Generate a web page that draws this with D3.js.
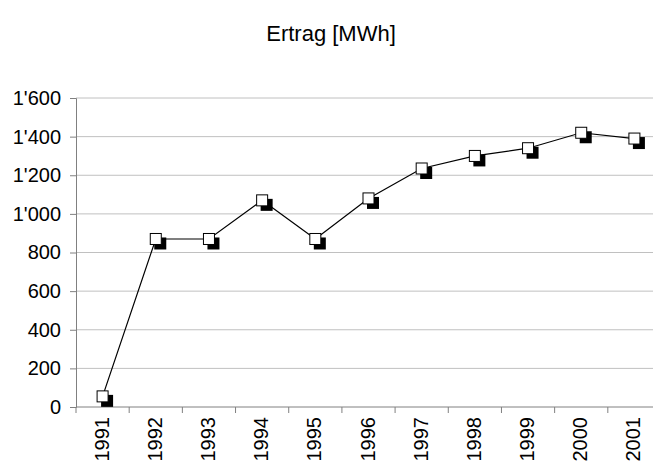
<!DOCTYPE html>
<html>
<head>
<meta charset="utf-8">
<script src="https://cdn.jsdelivr.net/npm/d3@7.9.0/dist/d3.min.js"></script>
<style>
  body { margin: 0; background: #fff; }
  svg { display: block; font-family: Arial, "Liberation Sans", sans-serif; }
</style>
</head>
<body>
<svg id="chart" width="653" height="470"></svg>
<script>
// Ertrag per year
const years = ['1991', '1992', '1993', '1994', '1995', '1996', '1997', '1998', '1999', '2000', '2001'];
const ertrag = [55, 870, 870, 1070, 870, 1080, 1235, 1300, 1340, 1420, 1390];
const yTicks = [0, 200, 400, 600, 800, 1000, 1200, 1400, 1600];

const svg = d3.select('#chart');
const plotLeft = 76, plotRight = 661, plotTop = 98, plotBottom = 407;

const x = d3.scaleBand().domain(years).range([plotLeft, plotRight]);
const y = d3.scaleLinear().domain([0, 1600]).range([plotBottom, plotTop]);

const fmt = (v) => d3.format(',')(v).replace(/,/g, "'");

// title
svg.append('text')
  .attr('x', 331)
  .attr('y', 41)
  .attr('text-anchor', 'middle')
  .attr('font-size', 22)
  .text('Ertrag [MWh]');

// gridlines
svg.append('g')
  .selectAll('line')
  .data(yTicks.filter((d) => d > 0))
  .join('line')
  .attr('x1', plotLeft)
  .attr('x2', plotRight)
  .attr('y1', (d) => y(d))
  .attr('y2', (d) => y(d))
  .attr('stroke', '#c0c0c0')
  .attr('stroke-width', 1);

// y axis
const yAxis = svg.append('g')
  .attr('transform', `translate(${plotLeft},0)`)
  .call(d3.axisLeft(y).tickValues(yTicks).tickFormat(fmt).tickSize(6).tickPadding(9));
yAxis.select('.domain').attr('stroke', '#808080');
yAxis.selectAll('.tick line').attr('stroke', '#808080');
yAxis.selectAll('text').attr('font-size', 20).attr('fill', '#000').attr('font-family', 'Arial, "Liberation Sans", sans-serif');

// x axis (ticks between categories)
const xAxis = svg.append('g').attr('transform', `translate(0,${plotBottom})`);
xAxis.append('line')
  .attr('x1', plotLeft).attr('x2', plotRight)
  .attr('stroke', '#808080');
xAxis.selectAll('line.tk')
  .data(years)
  .join('line')
  .attr('class', 'tk')
  .attr('x1', (d) => x(d)).attr('x2', (d) => x(d))
  .attr('y1', 0).attr('y2', 6)
  .attr('stroke', '#808080');
xAxis.selectAll('text')
  .data(years)
  .join('text')
  .attr('transform', (d) => `translate(${x(d) + x.bandwidth() / 2 + 6},10) rotate(-90)`)
  .attr('text-anchor', 'end')
  .attr('font-size', 20)
  .text((d) => d);

// line
const pts = years.map((d, i) => [x(d) + x.bandwidth() / 2, y(ertrag[i])]);
svg.append('path')
  .attr('d', d3.line()(pts))
  .attr('fill', 'none')
  .attr('stroke', '#000')
  .attr('stroke-width', 1.2);

// markers with shadow
const s = 11;
svg.append('g')
  .selectAll('rect')
  .data(pts)
  .join('rect')
  .attr('x', (d) => d[0] - s / 2 + 4)
  .attr('y', (d) => d[1] - s / 2 + 4)
  .attr('width', s + 1)
  .attr('height', s + 1)
  .attr('fill', '#000');
svg.append('g')
  .selectAll('rect')
  .data(pts)
  .join('rect')
  .attr('x', (d) => d[0] - s / 2)
  .attr('y', (d) => d[1] - s / 2)
  .attr('width', s)
  .attr('height', s)
  .attr('fill', '#fff')
  .attr('stroke', '#000')
  .attr('stroke-width', 1);
</script>
</body>
</html>
